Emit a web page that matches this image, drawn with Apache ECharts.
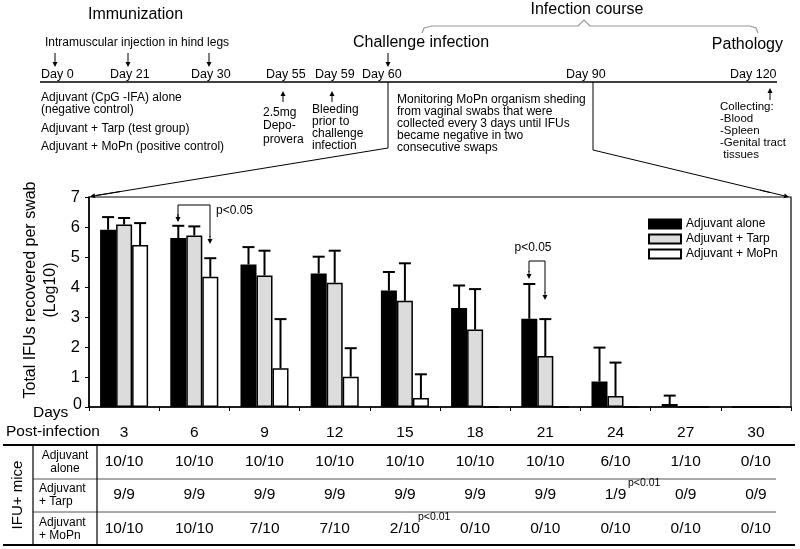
<!DOCTYPE html>
<html>
<head>
<meta charset="utf-8">
<script src="https://cdn.jsdelivr.net/npm/echarts@6/dist/echarts.min.js"></script>
<style>
  html, body { margin: 0; padding: 0; background: #fff; }
  #main { width: 800px; height: 549px; }
</style>
</head>
<body>
<div id="main"></div>
<script>
// days post-infection
const days = ["3", "6", "9", "12", "15", "18", "21", "24", "27", "30"];
const yTicks = [0, 1, 2, 3, 4, 5, 6, 7];

// log10 IFUs, mean and SD
const aloneMean = [5.91, 5.63, 4.75, 4.45, 3.88, 3.30, 2.94, 0.85, 0.10, 0];
const aloneSD = [0.42, 0.41, 0.58, 0.56, 0.62, 0.75, 1.16, 1.13, 0.28, 0];
const tarpMean = [6.08, 5.72, 4.38, 4.14, 3.54, 2.58, 1.70, 0.37, 0, 0];
const tarpSD = [0.22, 0.30, 0.83, 1.07, 1.25, 1.35, 1.23, 1.11, 0, 0];
const mopnMean = [5.40, 4.34, 1.29, 1.01, 0.30, 0, 0, 0, 0, 0];
const mopnSD = [0.73, 0.62, 1.64, 0.95, 0.79, 0, 0, 0, 0, 0];

// IFU+ mice table
const aloneIFU = ["10/10", "10/10", "10/10", "10/10", "10/10", "10/10", "10/10", "6/10", "1/10", "0/10"];
const tarpIFU = ["9/9", "9/9", "9/9", "9/9", "9/9", "9/9", "9/9", "1/9", "0/9", "0/9"];
const mopnIFU = ["10/10", "10/10", "7/10", "7/10", "2/10", "0/10", "0/10", "0/10", "0/10", "0/10"];

const FONT = "Liberation Sans, Arial, Helvetica, sans-serif";
const chart = echarts.init(document.getElementById("main"));

function txt(x, y, s, size, opts) {
  return {
    type: "text", x: x, y: y, silent: true,
    rotation: (opts && opts.rotation) || 0,
    style: Object.assign({
      text: s, fontFamily: FONT, fontSize: size, fill: "#000",
      textAlign: "left", textVerticalAlign: "middle", lineHeight: size + 0.5
    }, opts && opts.style)
  };
}
function seg(pts, w, color) {
  return {
    type: "polyline", silent: true,
    shape: { points: pts },
    style: { stroke: color || "#000", lineWidth: w || 1, fill: null }
  };
}
// arrow from (x1,y1) to (x2,y2) with head at the end
function arrow(x1, y1, x2, y2, w) {
  const a = Math.atan2(y2 - y1, x2 - x1), L = 5, H = 2.5;
  const bx = x2 - L * Math.cos(a), by = y2 - L * Math.sin(a);
  return [
    seg([[x1, y1], [bx, by]], w || 1),
    {
      type: "polygon", silent: true,
      shape: { points: [[x2, y2], [bx + H * Math.sin(a), by - H * Math.cos(a)], [bx - H * Math.sin(a), by + H * Math.cos(a)]] },
      style: { fill: "#000" }
    }
  ];
}

function errSeries(name, mean, sd, k) {
  return {
    name: name + " err",
    type: "custom",
    silent: true,
    z: 3,
    data: mean.map((m, i) => [i, m, sd[i]]),
    renderItem: function (params, api) {
      const s = api.value(2);
      if (!s) return { type: "group", children: [] };
      const band = api.size([1, 0])[0];
      const off = (k - 1) * band * 0.228;
      const p0 = api.coord([api.value(0), api.value(1)]);
      const p1 = api.coord([api.value(0), api.value(1) + s]);
      const x = p0[0] + off;
      const st = { stroke: "#000", lineWidth: 2 };
      return {
        type: "group",
        children: [
          { type: "line", shape: { x1: x, y1: p0[1], x2: x, y2: p1[1] }, style: st },
          { type: "line", shape: { x1: x - 6, y1: p1[1], x2: x + 6, y2: p1[1] }, style: st }
        ]
      };
    }
  };
}

const barBase = {
  type: "bar",
  barWidth: "22.8%",
  barGap: "0%",
  z: 2
};

// ---- graphic: timeline, annotations, table ----
const g = [];
// timeline header
g.push(txt(88, 15, "Immunization", 16));
g.push(txt(45, 43, "Intramuscular injection in hind legs", 12));
[55, 128, 209, 388].forEach(x => g.push(...arrow(x, 53, x, 67)));
g.push(txt(353, 43, "Challenge infection", 16));
g.push(txt(587, 10, "Infection course", 16, { style: { textAlign: "center" } }));
g.push(seg([[422, 33], [424, 28], [432, 26], [578, 26], [584, 20], [590, 26], [750, 26], [756, 28], [758, 33]], 1.2, "#999"));
g.push(txt(783, 45, "Pathology", 16, { style: { textAlign: "right" } }));

// day labels + axis line
[["Day 0", 41], ["Day 21", 110], ["Day 30", 191], ["Day 55", 266], ["Day 59", 315], ["Day 60", 362], ["Day 90", 566], ["Day 120", 730]]
  .forEach(d => g.push(txt(d[1], 75, d[0], 12.5)));
g.push(seg([[40, 82], [777, 82]], 1.5));

// under the timeline
g.push(txt(41, 104, "Adjuvant (CpG -IFA) alone\n(negative control)", 12, { style: { lineHeight: 12 } }));
g.push(txt(41, 129, "Adjuvant + Tarp (test group)", 12));
g.push(txt(41, 147, "Adjuvant + MoPn (positive control)", 12));
g.push(...arrow(283, 102, 283, 91));
g.push(txt(263, 126, "2.5mg\nDepo-\nprovera", 12, { style: { lineHeight: 13.5 } }));
g.push(...arrow(332, 102, 332, 91));
g.push(txt(312, 128, "Bleeding\nprior to\nchallenge\ninfection", 12, { style: { lineHeight: 12 } }));
g.push(txt(397, 124, "Monitoring MoPn organism sheding\nfrom vaginal swabs that were\ncollected every 3 days until IFUs\nbecame negative in two\nconsecutive swaps", 12, { style: { lineHeight: 12 } }));
g.push(...arrow(770, 100, 770, 88));
g.push(txt(720, 131, "Collecting:\n-Blood\n-Spleen\n-Genital tract\n tissues", 11.5, { style: { lineHeight: 12 } }));

// zoom lines towards the chart
g.push(seg([[388, 82], [388, 148], [96, 195.5]], 1));
g.push(...arrow(120, 191.6, 90, 196.5));
g.push(seg([[593, 82], [593, 150], [770, 192.5]], 1));
g.push(...arrow(760, 190, 789, 197));

// y axis title
g.push(txt(41, 290, "Total IFUs recovered per swab\n(Log10)", 16, {
  rotation: Math.PI / 2, style: { textAlign: "center", lineHeight: 20 }
}));

// significance brackets
g.push(seg([[178, 221], [178, 205], [210, 205], [210, 237]], 1));
g.push(...arrow(178, 214, 178, 222));
g.push(...arrow(210, 236, 210, 244));
g.push(txt(216, 211, "p<0.05", 12));
g.push(seg([[529, 272], [529, 261], [545, 261], [545, 293]], 1));
g.push(...arrow(529, 271, 529, 279));
g.push(...arrow(545, 292, 545, 300));
g.push(txt(533, 248, "p<0.05", 12, { style: { textAlign: "center" } }));

// table header
g.push(txt(33, 413, "Days", 15.5));
g.push(txt(6, 432, "Post-infection", 15.5));
g.push(txt(73, 405, "0", 16));
g.push(seg([[3, 445], [795, 445]], 2));
g.push(seg([[33, 479], [776, 479]], 1, "#555"));
g.push(seg([[33, 512], [776, 512]], 1, "#555"));
g.push(seg([[3, 545], [795, 545]], 2));
g.push(seg([[33, 445], [33, 545]], 1.2));
g.push(seg([[97, 445], [97, 545]], 1.2));
g.push(txt(18, 495, "IFU+ mice", 15, { rotation: Math.PI / 2, style: { textAlign: "center" } }));
g.push(txt(65, 462, "Adjuvant\nalone", 12, { style: { textAlign: "center", lineHeight: 12.5 } }));
g.push(txt(39, 495, "Adjuvant\n+ Tarp", 12, { style: { lineHeight: 12.5 } }));
g.push(txt(39, 529, "Adjuvant\n+ MoPn", 12, { style: { lineHeight: 12.5 } }));

chart.setOption({
  backgroundColor: "#fff",
  animation: false,
  textStyle: { fontFamily: FONT },
  grid: {
    left: 89, right: 9, top: 197, bottom: 142,
    show: true, borderColor: "#000", borderWidth: 1.2, backgroundColor: "transparent"
  },
  legend: {
    orient: "vertical",
    left: 643, top: 213,
    itemWidth: 32, itemHeight: 9, itemGap: 3,
    icon: "rect",
    data: ["Adjuvant alone", "Adjuvant + Tarp", "Adjuvant + MoPn"],
    textStyle: { fontSize: 12, color: "#000", fontFamily: FONT }
  },
  xAxis: {
    type: "category",
    data: days,
    axisLine: { lineStyle: { color: "#000", width: 1.5 } },
    axisTick: { show: true, length: 4, lineStyle: { color: "#000" } },
    axisLabel: { fontSize: 15.5, color: "#000", margin: 18, fontFamily: FONT }
  },
  yAxis: {
    type: "value",
    min: 0, max: 7, interval: 1,
    axisLine: { show: true, lineStyle: { color: "#000", width: 1.5 } },
    axisTick: { show: true, length: 4, lineStyle: { color: "#000" } },
    splitLine: { show: false },
    axisLabel: {
      fontSize: 16.5, color: "#000", margin: 9, fontFamily: FONT,
      formatter: v => (yTicks.indexOf(v) > 0 ? String(v) : "")
    }
  },
  series: [
    Object.assign({}, barBase, {
      name: "Adjuvant alone", data: aloneMean,
      itemStyle: { color: "#000", borderColor: "#000", borderWidth: 1.5 }
    }),
    Object.assign({}, barBase, {
      name: "Adjuvant + Tarp", data: tarpMean,
      itemStyle: { color: "#dcdcdc", borderColor: "#000", borderWidth: 1.5 }
    }),
    Object.assign({}, barBase, {
      name: "Adjuvant + MoPn", data: mopnMean,
      itemStyle: { color: "#fff", borderColor: "#000", borderWidth: 1.5 }
    }),
    errSeries("Adjuvant alone", aloneMean, aloneSD, 0),
    errSeries("Adjuvant + Tarp", tarpMean, tarpSD, 1),
    errSeries("Adjuvant + MoPn", mopnMean, mopnSD, 2)
  ],
  graphic: g
});

// table cells placed at the category centres
const rows = [[aloneIFU, 462], [tarpIFU, 495], [mopnIFU, 529]];
const cells = [];
rows.forEach(r => {
  r[0].forEach((s, i) => {
    const x = chart.convertToPixel({ xAxisIndex: 0 }, days[i]);
    cells.push(txt(x, r[1], s, 15.5, { style: { textAlign: "center" } }));
  });
});
cells.push(txt(418, 517, "p<0.01", 10.5));
cells.push(txt(628, 483, "p<0.01", 10.5));
chart.setOption({ graphic: g.concat(cells) });
</script>
</body>
</html>
